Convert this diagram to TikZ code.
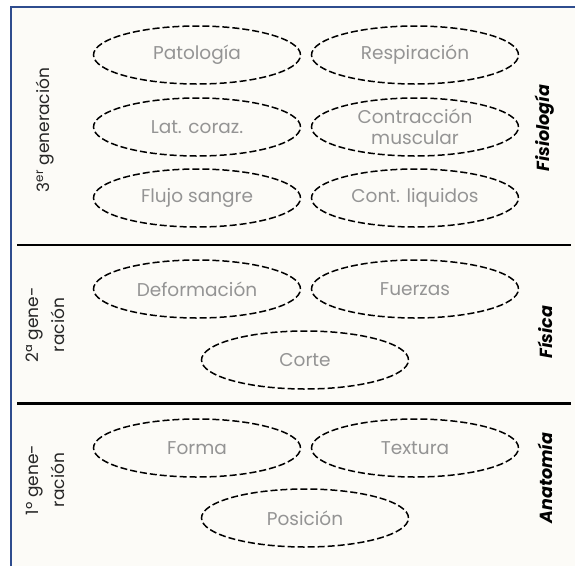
\documentclass[tikz,border=0pt]{standalone}
\usepackage{fontspec}
\setmainfont{Poppins}
\usetikzlibrary{shapes.geometric}
\definecolor{frameblue}{HTML}{2E4C8E}
\definecolor{paper}{HTML}{FCFBF7}
\tikzset{
  idea/.style={ellipse,draw=black,line width=1.5pt,dash pattern=on 7pt off 3pt,
    minimum width=207pt,minimum height=58pt,inner sep=0pt,text=black!42,
    font=\fontsize{18.5}{21}\selectfont,align=center},
  gen/.style={rotate=90,align=center,text=black!85,font=\fontsize{17}{26}\selectfont},
  area/.style={rotate=90,font=\fontsize{17.5}{18}\selectfont\bfseries\itshape}
}
\begin{document}
\begin{tikzpicture}[x=1pt,y=-1pt]
      \useasboundingbox (0,0) rectangle (575,566);
      \fill[paper] (11,7) rectangle (575,566);
      \draw[frameblue,line width=1.2pt] (11,566) -- (11,7) -- (575,7);
      \draw
        (197,55) node[idea] (pato){Patología}
        (415,55) node[idea] (resp){Respiración}
        (197,127) node[idea] (lat){Lat. coraz.}
        (415,127) node[idea] (contr){Contracción\\muscular}
        (197,198) node[idea] (flujo){Flujo sangre}
        (415,198) node[idea] (liq){Cont. liquidos}
        (197,289) node[idea] (defo){Deformación}
        (415,289) node[idea] (fuer){Fuerzas}
        (305,360) node[idea] (corte){Corte}
        (197,448) node[idea] (forma){Forma}
        (415,448) node[idea] (text){Textura}
        (305,518) node[idea] (pos){Posición};
      \draw
        (45,130) node[gen] (g3){3\textsuperscript{er} generación}
        (45,325) node[gen] (g2){2ª gene-\\ración}
        (45,480) node[gen] (g1){1º gene-\\ración}
        (545,128) node[area] (fisio){Fisiología}
        (545,332) node[area] (fis){Física}
        (545,478) node[area] (anat){Anatomía};
      \draw[line width=1.5pt] (17,245) -- (571,245);
      \draw[line width=3pt] (17,403) -- (571,403);
    \end{tikzpicture}
\end{document}
